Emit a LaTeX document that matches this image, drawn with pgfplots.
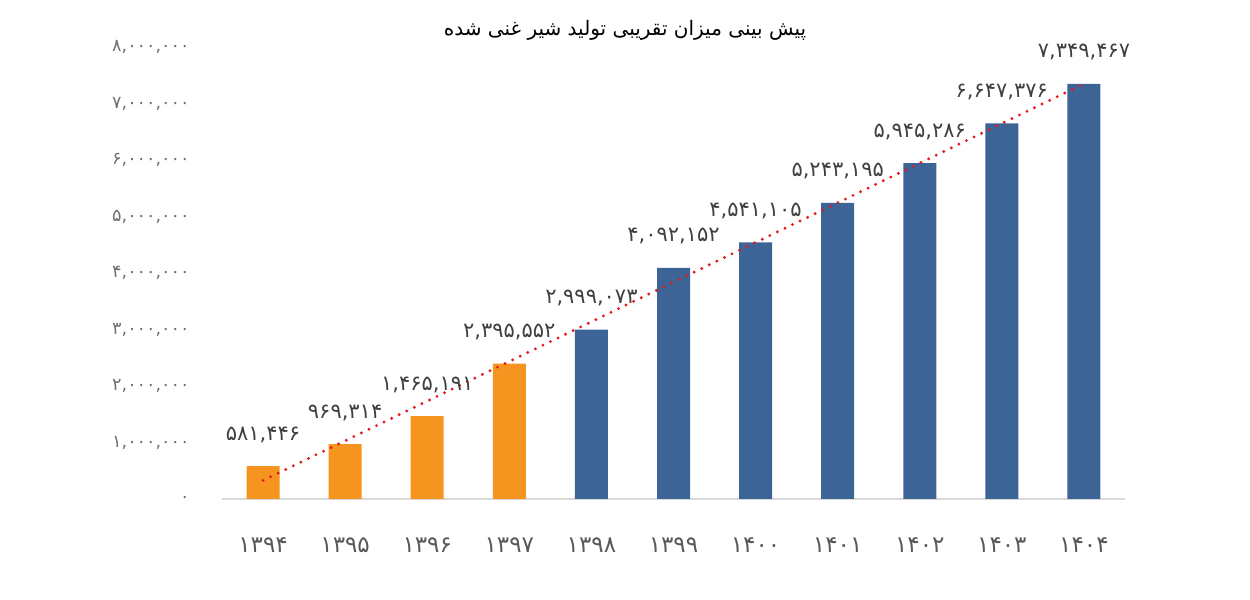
\documentclass[border=0pt]{standalone}
\usepackage{fontspec}
\usepackage{pgfplots}
\pgfplotsset{compat=1.18}
\usepackage{pgfplotstable}
\setmainfont{DejaVu Sans}
\newfontfamily\arabicfont[Script=Arabic]{DejaVu Sans}
\TeXXeTstate=1
\definecolor{barorange}{HTML}{F5941E}
\definecolor{barblue}{HTML}{3D6496}
\definecolor{trendred}{HTML}{E31A1C}
\definecolor{lbl}{HTML}{404040}
\definecolor{tickc}{HTML}{707070}
\definecolor{xtickc}{HTML}{595959}

\pgfplotstableread{
x y label
0 581446 ۵۸۱,۴۴۶
1 969314 ۹۶۹,۳۱۴
2 1465191 ۱,۴۶۵,۱۹۱
3 2395552 ۲,۳۹۵,۵۵۲
}\orangedata
\pgfplotstableread{
x y label
4 2999073 ۲,۹۹۹,۰۷۳
5 4092152 ۴,۰۹۲,۱۵۲
6 4541105 ۴,۵۴۱,۱۰۵
7 5243195 ۵,۲۴۳,۱۹۵
8 5945286 ۵,۹۴۵,۲۸۶
9 6647376 ۶,۶۴۷,۳۷۶
10 7349467 ۷,۳۴۹,۴۶۷
}\bluedata

\begin{document}
\begin{tikzpicture}
\path[use as bounding box] (0,0) rectangle (625pt,300pt);
\begin{axis}[
  at={(111pt,50.5pt)}, anchor=south west,
  scale only axis, width=451.5pt, height=226pt,
  xmin=-0.5, xmax=10.5, ymin=0, ymax=8000000,
  clip=false,
  ybar, bar width=16.5pt,
  axis x line=bottom, axis y line=left,
  y axis line style={draw=none},
  x axis line style={draw=black!15, line width=0.8pt, -},
  major tick length=0pt,
  xtick={0,1,2,3,4,5,6,7,8,9,10},
  xticklabels={۱۳۹۴,۱۳۹۵,۱۳۹۶,۱۳۹۷,۱۳۹۸,۱۳۹۹,۱۴۰۰,۱۴۰۱,۱۴۰۲,۱۴۰۳,۱۴۰۴},
  xticklabel style={font=\arabicfont\fontsize{11.5}{13}\selectfont, text=xtickc, inner sep=0pt, anchor=center, yshift=-23pt},
  ytick={0,1000000,2000000,3000000,4000000,5000000,6000000,7000000,8000000},
  yticklabels={{۰},{۱,۰۰۰,۰۰۰},{۲,۰۰۰,۰۰۰},{۳,۰۰۰,۰۰۰},{۴,۰۰۰,۰۰۰},{۵,۰۰۰,۰۰۰},{۶,۰۰۰,۰۰۰},{۷,۰۰۰,۰۰۰},{۸,۰۰۰,۰۰۰}},
  yticklabel style={font=\arabicfont\fontsize{8.8}{10}\selectfont, text=tickc, inner sep=0pt, anchor=east, xshift=-16pt},
  scaled y ticks=false,
  nodes near coords,
  point meta=explicit symbolic,
  every node near coord/.append style={font=\arabicfont\fontsize{10.5}{12}\selectfont, text=lbl, inner sep=0pt, anchor=south, yshift=11.5pt},
]
\addplot[fill=barorange, draw=none, bar shift=0pt] table[x=x, y=y, meta=label] {\orangedata};
\addplot[fill=barblue, draw=none, bar shift=0pt] table[x=x, y=y, meta=label] {\bluedata};
\addplot[sharp plot, nodes near coords={}, trendred, line width=1.6pt, line cap=round, dash pattern=on 0pt off 4.2pt] coordinates {(0,328562) (10,7349467)};
\end{axis}
\node[font=\arabicfont\fontsize{10}{12}\selectfont, text=black] at (312.5pt,285pt) {\beginR پیش بینی میزان تقریبی تولید شیر غنی شده\endR};
\end{tikzpicture}
\end{document}
